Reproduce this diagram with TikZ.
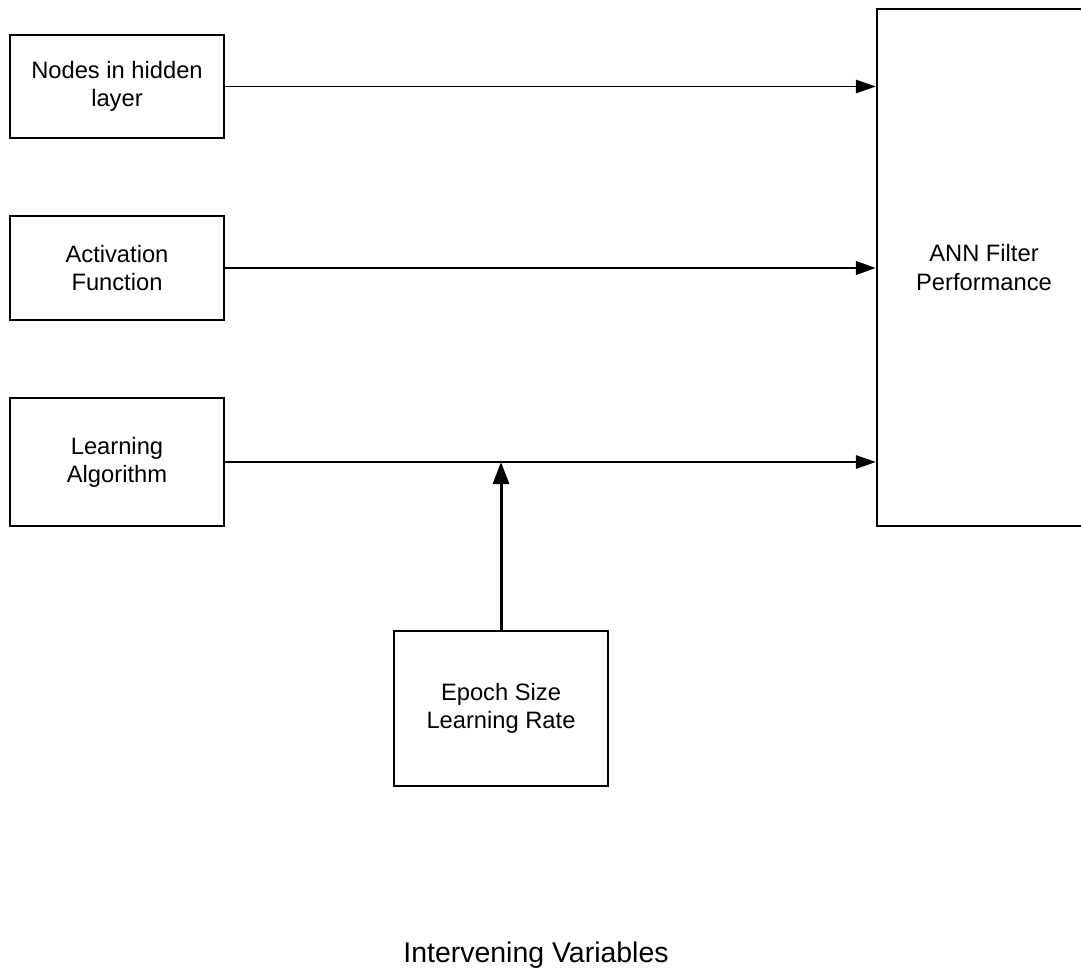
\documentclass[tikz,border=0pt]{standalone}
\usepackage{fontspec}
\setmainfont{Liberation Sans}
\usetikzlibrary{arrows.meta,positioning,calc}

\begin{document}
\begin{tikzpicture}[x=0.02cm, y=-0.02cm,
    every node/.style={font=\fontsize{13.5}{16}\selectfont, align=center},
    varbox/.style={draw, line width=1.4pt, minimum width=4.28cm, inner sep=0pt},
    link/.style={line width=0.85pt, -{Triangle[length=0.4cm, width=0.27cm]}},
    >=Stealth]
    \useasboundingbox (0,0) rectangle (1081,970);
    % Independent variables
    \node[varbox, minimum height=2.06cm] (hidden) at (117,86.5) {Nodes in hidden\\layer};
    \node[varbox, minimum height=2.08cm] (activ) at (117,268) {Activation\\Function};
    \node[varbox, minimum height=2.56cm] (learn) at (117,462) {Learning\\Algorithm};
    % Dependent variable (runs past the right edge)
    \node[varbox, minimum height=10.34cm] (perf) at (984,267.5) {ANN Filter\\Performance};
    % Intervening variables
    \node[varbox, minimum height=3.1cm] (epoch) at (501,708.5) {Epoch Size\\Learning Rate};
    \node[font=\fontsize{16.2}{19}\selectfont] (intervene) at (536,955) {Intervening Variables};
    % Arrows
    \draw[link] (hidden.east) -- (hidden.east -| perf.west);
    \draw[link, line width=1.4pt] (activ.east) -- (activ.east -| perf.west);
    \draw[link] (learn.east) -- (learn.east -| perf.west);
    \coordinate (join) at (epoch.north |- learn.east);
    \draw[line width=1.7pt, -{Triangle[length=0.44cm, width=0.32cm]}] (epoch.north) -- (join);
  \end{tikzpicture}
\end{document}
